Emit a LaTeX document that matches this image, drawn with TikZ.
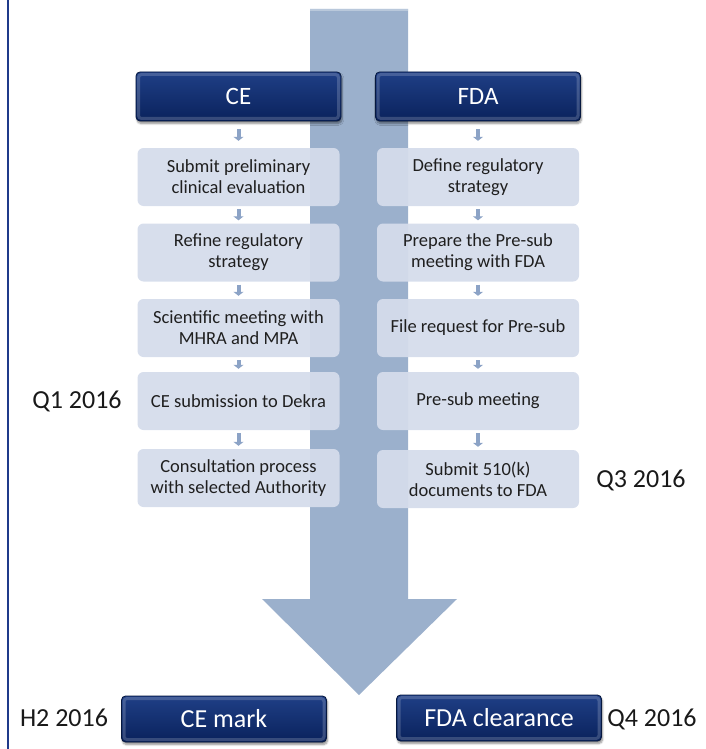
\documentclass[tikz,border=0pt]{standalone}
\usepackage{fontspec}
\setmainfont{Carlito}
\usepackage{xcolor}
\usetikzlibrary{arrows.meta,positioning,shadows.blur}

\definecolor{navytop}{HTML}{1F3F86}
\definecolor{navybot}{HTML}{0A225C}
\definecolor{navyedge}{HTML}{06183F}
\definecolor{boxfill}{HTML}{D5DCEB}
\definecolor{flowblue}{HTML}{9BB0CC}
\definecolor{stepblue}{HTML}{8CA3C6}
\definecolor{sideblue}{HTML}{1F3A8A}

\begin{document}
\begin{tikzpicture}[x=1pt,y=-1pt,>=Latex,
  head/.style={rectangle,rounded corners=4pt,minimum width=205pt,minimum height=49pt,
    top color=navytop,bottom color=navybot,draw=navyedge,line width=0.8pt,text=white,
    font=\fontsize{25}{30}\selectfont,
    path picture={\draw[white,opacity=0.18,line width=3pt,rounded corners=3pt]
      ([shift={(2.5pt,-2.5pt)}]path picture bounding box.north west) rectangle
      ([shift={(-2.5pt,2.5pt)}]path picture bounding box.south east);},
    blur shadow={shadow xshift=1pt,shadow yshift=-2.5pt,shadow blur steps=6,shadow opacity=45}},
  result/.style={head,minimum height=46pt,font=\fontsize{26}{30}\selectfont},
  stepbox/.style={rectangle,rounded corners=6pt,minimum width=202pt,minimum height=58pt,
    fill=boxfill,fill opacity=0.94,text opacity=1,text=black!88,align=center,
    font=\fontsize{18.5}{21}\selectfont},
  steparrow/.style={draw=stepblue,line width=4pt,-{Triangle[length=4pt,width=10pt]},
    shorten <=3pt,shorten >=3pt},
  datelabel/.style={text=black!90,font=\fontsize{26}{30}\selectfont}
]
\useasboundingbox (0,0) rectangle (706,749);

% side rule
\draw[sideblue,line width=1.6pt] (8,0) -- (8,749);

% big arrow behind the two columns
\fill[flowblue] (310,9) -- (408,9) -- (408,599) -- (457,599) -- (359,695)
  -- (262,599) -- (310,599) -- cycle;
\fill[flowblue!70!white] (310,9) rectangle (408,11);

% CE column
\node[head] (ce0) at (238.5,96.5) {CE};
\node[stepbox] (ce1) at (238.5,177) {Submit preliminary\\clinical evaluation};
\node[stepbox] (ce2) at (238.5,252.5) {Refine regulatory\\strategy};
\node[stepbox] (ce3) at (238.5,328) {Scientific meeting with\\MHRA and MPA};
\node[stepbox] (ce4) at (238.5,401) {CE submission to Dekra};
\node[stepbox] (ce5) at (238.5,478) {Consultation process\\with selected Authority};

% FDA column
\node[head] (fda0) at (478,96.5) {FDA};
\node[stepbox] (fda1) at (478,177) {Define regulatory\\strategy};
\node[stepbox] (fda2) at (478,252.5) {Prepare the Pre-sub\\meeting with FDA};
\node[stepbox] (fda3) at (478,328) {File request for Pre-sub};
\node[stepbox] (fda4) at (478,401) {Pre-sub meeting};
\node[stepbox] (fda5) at (478,479) {Submit 510(k)\\documents to FDA};

% step arrows
\draw[steparrow,shorten <=8pt,shorten >=7pt] (ce0) -- (ce1);
\draw[steparrow,shorten <=8pt,shorten >=7pt] (fda0) -- (fda1);
\foreach \a/\b in {1/2,2/3,3/4,4/5}{
  \draw[steparrow] (ce\a) -- (ce\b);
  \draw[steparrow] (fda\a) -- (fda\b);
}

% outcomes
\node[result] (cemark) at (224,719) {CE mark};
\node[result] (fdaclr) at (499,718) {FDA clearance};

% dates
\node[datelabel] (q1) at (77,401) {Q1 2016};
\node[datelabel] (q3) at (641,480) {Q3 2016};
\node[datelabel] (h2) at (64,718) {H2 2016};
\node[datelabel] (q4) at (652,719) {Q4 2016};
\end{tikzpicture}
\end{document}
